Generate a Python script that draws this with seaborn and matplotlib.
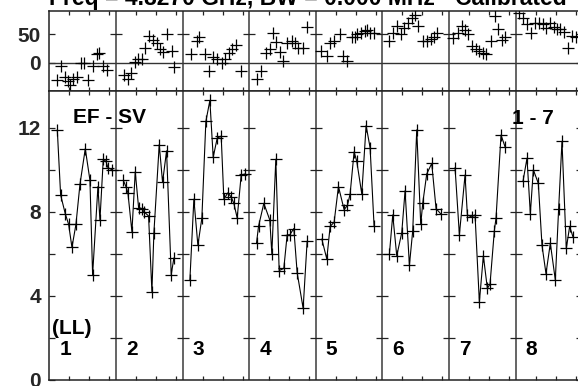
"""EF - SV lagged panels, 8 sub-panels with a frequency strip on top"""
# %% Imports
import numpy as np
import pandas as pd
import seaborn as sns
from matplotlib import pyplot as plt

# %% Data
PANEL_WIDTH = 10
N_PANELS = 8
TITLE = "Freq = 4.8270 GHz, BW = 0.000 MHz - Calibrated"
panel_labels = ["1", "2", "3", "4", "5", "6", "7", "8"]

# main panel: position inside panel, EF - SV value
t_main_1 = [1.2, 1.7, 2.4, 2.9, 3.4, 4.0, 4.6, 5.4, 6.1, 6.5, 7.3, 7.6, 8.1, 8.5, 8.8, 9.4]
v_main_1 = [11.9, 8.8, 7.9, 7.4, 6.3, 7.4, 9.3, 11.0, 9.5, 5.0, 9.2, 7.6, 10.5, 10.4, 10.1, 10.0]
t_main_2 = [1.1, 1.5, 1.8, 2.4, 2.9, 3.4, 3.9, 4.2, 4.9, 5.4, 5.7, 6.5, 7.0, 7.6, 8.3, 8.7]
v_main_2 = [9.5, 9.2, 8.9, 7.05, 9.9, 8.2, 8.15, 8.0, 7.8, 4.2, 7.0, 11.2, 9.4, 10.9, 5.0, 5.8]
t_main_3 = [1.1, 1.7, 2.3, 2.9, 3.5, 4.1, 4.6, 5.2, 5.8, 6.2, 6.8, 7.3, 7.7, 8.2, 8.8, 9.4]
v_main_3 = [4.75, 8.6, 6.4, 7.7, 12.3, 13.3, 10.6, 11.5, 11.6, 8.6, 8.9, 8.7, 8.4, 7.7, 9.75, 9.8]
t_main_4 = [1.1, 1.4, 2.2, 3.1, 3.4, 4.0, 4.5, 5.2, 5.7, 6.1, 6.7, 7.2, 8.1, 8.7]
v_main_4 = [6.5, 7.3, 8.4, 7.6, 6.0, 10.5, 5.2, 5.3, 6.9, 6.9, 7.2, 5.1, 3.4, 6.6]
t_main_5 = [0.9, 1.65, 2.15, 2.75, 3.4, 4.25, 4.75, 5.15, 5.75, 6.15, 6.9, 7.55, 8.15, 8.75]
v_main_5 = [6.7, 5.75, 7.3, 7.5, 9.2, 8.1, 8.3, 8.85, 10.85, 10.4, 8.85, 12.1, 11.05, 7.3]
t_main_6 = [1.05, 1.55, 2.15, 2.9, 3.4, 4.05, 4.55, 5.15, 5.75, 6.05, 6.65, 7.4, 8.05, 8.75]
v_main_6 = [6.0, 7.85, 5.9, 7.0, 9.0, 5.45, 7.1, 11.9, 7.4, 8.4, 9.8, 10.3, 8.15, 7.9]
t_main_7 = [0.9, 1.55, 2.4, 2.75, 3.4, 3.9, 4.55, 5.15, 5.75, 6.15, 6.8, 7.05, 7.8, 8.4]
v_main_7 = [10.1, 6.9, 9.75, 7.85, 7.75, 7.85, 3.7, 5.9, 4.35, 4.55, 7.1, 7.7, 11.65, 11.1]
t_main_8 = [1.1, 1.7, 2.2, 2.65, 3.4, 3.95, 4.55, 5.2, 5.95, 6.45, 6.95, 7.6, 8.1, 8.6]
v_main_8 = [9.45, 10.55, 7.9, 10.0, 9.35, 6.4, 5.05, 6.5, 4.75, 8.15, 11.35, 6.25, 7.3, 6.8]

# top strip: position inside panel, value
t_top_1 = [1.1, 1.75, 2.35, 2.85, 3.1, 3.6, 4.1, 4.75, 5.25, 5.85, 6.5, 7.1, 7.5, 8.1, 8.7]
v_top_1 = [-31, -5, -26, -32, -40, -29, -26, -1, -1, -31, -6, 16, 18, -6, -12]
t_top_2 = [1.25, 1.75, 2.25, 2.85, 3.35, 3.85, 4.35, 5.0, 5.5, 6.1, 6.6, 7.1, 7.6, 8.4, 8.7]
v_top_2 = [-21, -29, -19, 1, 6, 7, 26, 47, 40, 34, 25, 19, 50, 20, -8]
t_top_3 = [1.3, 2.1, 2.5, 3.4, 4.0, 4.6, 5.1, 5.9, 6.4, 7.0, 7.4, 8.0, 8.7]
v_top_3 = [15, 38, 46, 15, -14, 11, 6, 0, 7, 18, 24, 31, -14]
t_top_4 = [1.15, 1.8, 2.55, 3.15, 3.65, 4.05, 4.65, 5.15, 5.75, 6.4, 6.9, 7.4, 8.05, 8.65]
v_top_4 = [-29, -14, 18, 24, 53, 36, 19, 3, 35, 38, 35, 26, 26, 63]
t_top_5 = [0.75, 1.65, 2.15, 2.75, 3.65, 4.05, 4.65, 5.4, 5.9, 6.25, 6.75, 7.4, 7.75, 8.15, 8.75]
v_top_5 = [20, 12, 34, 38, 50, 12, 3, 46, 46, 50, 52, 56, 57, 52, 53]
t_top_6 = [1.05, 1.65, 2.15, 2.75, 3.25, 3.9, 4.5, 4.9, 5.4, 6.05, 6.65, 7.25, 7.75, 8.25]
v_top_6 = [38, 53, 65, 50, 62, 70, 79, 85, 65, 38, 38, 42, 46, 53]
t_top_7 = [0.65, 1.4, 1.9, 2.4, 2.9, 3.4, 4.05, 4.55, 5.1, 5.55, 6.3, 6.9, 7.4, 7.9, 8.4]
v_top_7 = [44, 53, 65, 57, 51, 29, 24, 20, 18, 16, 38, 82, 59, 41, 46]
t_top_8 = [0.55, 1.15, 1.7, 2.3, 2.95, 3.55, 4.15, 4.6, 5.2, 5.7, 6.2, 6.7, 7.2, 7.8, 8.45, 9.1]
v_top_8 = [88, 79, 69, 53, 70, 70, 69, 62, 70, 63, 59, 59, 54, 26, 47, 46]

main_t = [t_main_1, t_main_2, t_main_3, t_main_4, t_main_5, t_main_6, t_main_7, t_main_8]
main_v = [v_main_1, v_main_2, v_main_3, v_main_4, v_main_5, v_main_6, v_main_7, v_main_8]
top_t = [t_top_1, t_top_2, t_top_3, t_top_4, t_top_5, t_top_6, t_top_7, t_top_8]
top_v = [v_top_1, v_top_2, v_top_3, v_top_4, v_top_5, v_top_6, v_top_7, v_top_8]


# %% Functions


def build_df(t_lists, v_lists):
    rows = []
    for panel, (ts, vs) in enumerate(zip(t_lists, v_lists)):
        for t, v in zip(ts, vs):
            rows.append({"panel": panel, "t": panel * PANEL_WIDTH + t, "value": v})
    return pd.DataFrame(rows)


def _style_panel_axes(ax, yticks, ylabels, divider_ticks):
    ax.set_xlim(0, N_PANELS * PANEL_WIDTH)
    xticks = [p * PANEL_WIDTH + o for p in range(N_PANELS) for o in (3, 6, 9)]
    ax.set_xticks(xticks)
    ax.tick_params(axis="x", direction="in", top=True, bottom=True, length=3.2, width=0.9,
                   labelbottom=False, color="#222222")
    ax.set_yticks(yticks)
    ax.set_yticklabels(ylabels)
    ax.tick_params(axis="y", direction="in", left=True, right=True, length=4.5, width=0.9, pad=6,
                   labelsize=15, color="#222222")
    for label in ax.get_yticklabels():
        label.set_fontweight("bold")
    for x in range(PANEL_WIDTH, N_PANELS * PANEL_WIDTH, PANEL_WIDTH):
        ax.axvline(x, color="#3a3a3a", lw=1.1, zorder=1)
        ax.hlines(divider_ticks, x - 0.9, x + 0.9, color="#222222", lw=0.9, zorder=1)
    for side in ["left", "right", "top", "bottom"]:
        ax.spines[side].set_color("#222222")
        ax.spines[side].set_linewidth(1.1)
    ax.set_xlabel("")
    ax.set_ylabel("")


# %% Plotting
sns.set_style("ticks")
plt.rcParams["font.family"] = ["Liberation Sans", "DejaVu Sans"]
plt.rcParams["font.weight"] = "bold"

main_df = build_df(main_t, main_v)
top_df = build_df(top_t, top_v)

fig = plt.figure(figsize=(5.78, 3.86), dpi=100)
left = 49.3 / 578
width = 533 / 578
ax_top = fig.add_axes([left, 1 - 91 / 386, width, 80.3 / 386])
ax_main = fig.add_axes([left, 1 - 379.7 / 386, width, (379.7 - 91) / 386])

# top strip - markers only plus a zero line
ax_top.axhline(0, color="#333333", lw=1.0, zorder=1)
sns.scatterplot(data=top_df, x="t", y="value", marker="+", s=80, color="k", linewidth=0.9,
                legend=False, ax=ax_top, zorder=3)
ax_top.set_ylim(-50, 92)
_style_panel_axes(ax_top, [0, 50], ["0", "50"], [50])

# main panel - connected markers, one line per panel
sns.lineplot(data=main_df, x="t", y="value", units="panel", estimator=None, color="k", lw=0.8,
             legend=False, ax=ax_main, zorder=2)
sns.scatterplot(data=main_df, x="t", y="value", marker="+", s=80, color="k", linewidth=0.9,
                legend=False, ax=ax_main, zorder=3)
ax_main.set_ylim(0, 13.75)
main_yticks = np.arange(0, 14, 2)
main_ylabels = ["0", "", "4", "", "8", "", "12"]
_style_panel_axes(ax_main, main_yticks, main_ylabels, main_yticks[1:])

text_kw = dict(fontsize=15, fontweight="bold", color="k")
ax_main.text(3.5, 12.5, "EF - SV", va="center", ha="left", **text_kw)
ax_main.text(69.4, 12.45, "1 - 7", va="center", ha="left", **text_kw)
ax_main.text(0.35, 2.45, "(LL)", va="center", ha="left", **text_kw)
for i, lab in enumerate(panel_labels):
    ax_main.text(i * PANEL_WIDTH + 1.5, 1.42, lab, va="center", ha="left", **text_kw)

fig.text(left, 1 - 5 / 386, TITLE, va="baseline", ha="left", fontsize=16.5, fontweight="bold",
         color="k")

fig.savefig("out.png", dpi=100)
